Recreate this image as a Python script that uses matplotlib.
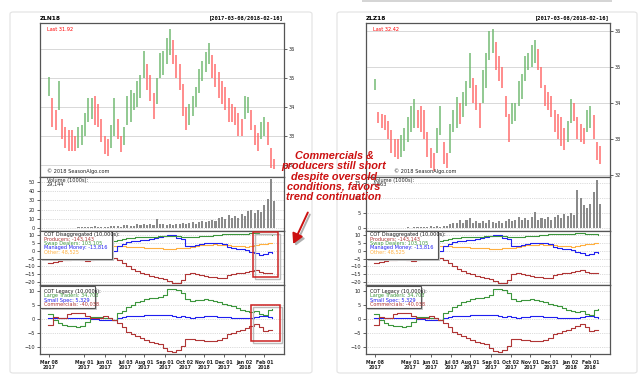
import matplotlib
matplotlib.use('Agg')
import matplotlib.pyplot as plt
from matplotlib.patches import Rectangle, FancyBboxPatch, FancyArrowPatch
import pandas as pd

W, H = 640, 377

# ---- data ----
bar_dates = pd.date_range('2017-03-08', periods=70, freq='5D')
cot_dates = pd.date_range('2017-03-07', periods=50, freq='7D')

zln_lo = [34.4, 33.3, 33.2, 33.9, 32.9, 32.6, 32.5, 32.5, 32.5, 32.6,
          32.7, 33.0, 33.5, 33.6, 33.4, 33.3, 32.8, 32.4, 32.3, 32.6,
          33.0, 32.9, 32.45, 32.7, 33.4, 33.5, 33.9, 34.0, 34.3, 35.0,
          34.6, 34.2, 33.6, 34.1, 35.0, 35.1, 35.5, 35.8, 35.5, 35.0,
          34.6, 33.7, 33.2, 33.4, 33.7, 34.0, 34.5, 34.9, 35.2, 35.5,
          35.0, 34.7, 34.3, 34.1, 33.9, 33.5, 33.5, 33.4, 33.0, 33.0,
          33.6, 33.8, 33.2, 32.7, 32.5, 32.9, 33.0, 32.7, 31.9, 31.85]
zln_hi = [35.05, 34.3, 33.9, 34.9, 33.6, 33.3, 33.2, 33.2, 33.0, 33.3,
          33.4, 33.8, 34.3, 34.3, 34.4, 34.1, 33.6, 33.0, 32.9, 33.4,
          34.3, 33.6, 33.0, 33.3, 34.4, 34.6, 34.5, 34.9, 35.1, 35.95,
          35.5, 35.1, 34.5, 35.0, 35.85, 35.95, 36.4, 36.68, 36.3, 35.8,
          35.5, 34.8, 34.0, 34.1, 34.4, 34.7, 35.3, 35.6, 35.9, 36.2,
          35.8, 35.5, 35.2, 34.9, 34.7, 34.3, 34.1, 34.0, 33.8, 33.6,
          34.4, 34.35, 33.9, 33.4, 33.1, 33.5, 33.66, 33.5, 32.6, 32.2]

zlz_lo = [34.35, 33.45, 33.3, 33.25, 33.0, 32.6, 32.5, 32.45, 32.5, 32.65,
          32.9, 33.2, 33.3, 33.3, 33.2, 33.0, 32.5, 32.2, 32.1, 32.6,
          33.1, 32.3, 32.2, 32.6, 33.2, 33.3, 33.4, 33.6, 33.9, 34.4,
          34.0, 33.8, 33.3, 34.0, 34.4, 35.2, 35.4, 34.9, 34.6, 34.4,
          33.6, 32.9, 33.4, 33.5, 33.9, 34.1, 34.6, 34.9, 35.0, 35.1,
          34.9, 34.4, 33.9, 33.8, 33.6, 33.2, 33.0, 32.8, 32.7, 32.9,
          33.45, 33.5, 33.0, 32.9, 32.85, 33.2, 33.3, 33.0, 32.4, 32.3]
zlz_hi = [34.65, 33.75, 33.7, 33.65, 33.5, 33.25, 33.0, 33.0, 33.1, 33.3,
          33.6, 33.9, 34.1, 33.8, 33.9, 33.8, 33.2, 32.75, 32.6, 33.3,
          33.9, 32.9, 32.6, 33.4, 33.8, 34.15, 34.0, 34.3, 34.6, 35.4,
          34.7, 34.5, 34.0, 34.9, 35.4, 36.0, 36.05, 35.7, 35.3, 35.0,
          34.2, 33.7, 34.0, 34.0, 34.6, 34.8, 35.3, 35.4, 35.6, 35.75,
          35.5, 35.0, 34.5, 34.3, 34.2, 33.8, 33.7, 33.6, 33.3, 33.5,
          34.1, 34.0, 33.6, 33.4, 33.3, 33.8, 33.9, 33.65, 32.9, 32.8]

zln_vol = [0.2, 0.3, 0.2, 0.3, 0.4, 0.3, 0.5, 0.4, 0.5, 0.6,
           0.8, 0.6, 1.0, 0.9, 2.5, 1.2, 1.0, 1.5, 1.3, 1.8,
           1.6, 2.0, 1.5, 2.8, 3.2, 2.5, 2.2, 4.0, 3.5, 4.5,
           3.0, 4.8, 3.5, 9.5, 4.0, 3.8, 3.2, 4.5, 3.6, 4.2,
           3.8, 5.0, 4.2, 5.5, 6.0, 4.8, 6.5, 7.5, 6.0, 8.0,
           9.0, 7.5, 10.5, 12.0, 9.5, 14.0, 11.0, 13.0, 10.5, 15.0,
           13.0, 18.0, 20.0, 16.5, 19.0, 17.0, 25.0, 31.0, 53.0, 29.0]
zlz_vol = [0.05, 0.05, 0.05, 0.05, 0.05, 0.1, 0.05, 0.1, 0.1, 0.1,
           0.2, 0.15, 0.2, 0.3, 0.25, 0.4, 0.3, 0.5, 0.4, 0.6,
           0.3, 0.8, 0.5, 1.2, 1.8, 1.5, 2.5, 1.8, 2.8, 3.4,
           1.5, 2.2, 1.6, 2.4, 1.8, 2.6, 2.0, 1.8, 2.2, 1.7,
           2.4, 3.0, 2.2, 2.8, 3.5, 2.5, 3.2, 2.7, 3.6, 5.3,
           2.8, 3.4, 3.0, 3.8, 2.6, 3.6, 4.2, 3.4, 4.6, 4.0,
           5.0, 4.4, 12.5, 10.0, 7.5, 6.5, 7.8, 12.0, 16.0, 8.0]

# COT disaggregated (10,000s)
producers = [-8, -7.5, -6.5, -6, -6, -5.5, -5.5, -6, -6.5, -6,
             -5, -4.5, -4.5, -4.5, -4.8, -6, -8, -10, -11.5, -13,
             -14, -15, -16, -16.5, -17.5, -18, -19.5, -20.5, -20.8, -19,
             -15, -14.5, -15, -15.5, -16, -16.5, -17, -17.5, -17.2, -15.5,
             -15, -14.5, -14, -13.5, -13, -12.5, -13.5, -14, -14.5, -14.3]
swap_dealers = [5.5, 5.8, 6.0, 6.0, 6.2, 6.0, 6.3, 6.5, 6.4, 6.5,
                6.6, 6.5, 6.5, 6.4, 6.5, 7.0, 7.8, 8.2, 8.3, 8.5,
                8.6, 8.8, 8.9, 9.0, 9.2, 9.3, 9.5, 9.6, 9.4, 9.0,
                8.6, 8.8, 9.0, 9.3, 9.5, 9.7, 9.9, 10.2, 10.4, 10.6,
                10.8, 10.7, 10.9, 11.0, 11.2, 11.3, 11.0, 10.8, 10.5, 10.3]
managed_money = [2.0, 1.5, 1.0, 0.5, 0, -0.5, -1, -1.5, -1, -0.5,
                 0, -0.5, -1, -0.5, 0, 3.0, 4.0, 5.5, 6.0, 6.5,
                 6.8, 7.0, 7.2, 8.0, 8.5, 9.5, 10.0, 9.8, 8.0, 7.5,
                 3.0, 2.8, 3.5, 4.5, 5.0, 5.2, 5.0, 4.8, 4.5, 2.5,
                 1.8, 1.2, 0.8, 0.5, -0.5, -1.5, -2.5, -2.2, -1.0, -1.4]
other = [3.0, 3.2, 3.5, 3.8, 4.0, 4.2, 4.0, 3.8, 4.0, 4.2,
         4.0, 3.8, 3.5, 3.2, 3.0, 3.0, 2.8, 2.6, 2.5, 2.3,
         2.2, 2.0, 1.8, 1.6, 1.5, 1.3, 1.2, 1.4, 1.5, 1.6,
         2.0, 2.5, 3.0, 3.4, 3.6, 3.8, 4.0, 3.8, 3.5, 3.4,
         3.2, 3.0, 2.8, 2.5, 3.0, 3.8, 4.3, 4.5, 4.8, 4.9]

# COT legacy (10,000s)
large_traders = [1.8, -0.5, -1.5, -2.0, -2.5, -2.5, -2.8, -2.5, -1.0, 0.8,
                 0.8, 0.6, 0.5, 0.3, -0.2, 2.0, 3.0, 4.4, 5.0, 6.0,
                 6.3, 7.2, 7.4, 7.5, 7.8, 8.6, 10.5, 10.8, 10.2, 9.3,
                 7.2, 6.5, 6.6, 6.8, 7.0, 6.8, 6.5, 6.2, 5.5, 5.0,
                 4.5, 3.9, 3.2, 2.8, 2.5, 2.8, 1.8, 1.5, 3.2, 3.5]
small_spec = [0.5, 0.3, 0.4, 0.2, 0.3, 0.5, 0.4, 0.3, 0.2, 0.1,
              0.0, -0.2, -0.3, -0.4, -0.2, 0.5, 0.8, 0.9, 1.0, 1.1,
              1.2, 1.3, 1.4, 1.3, 1.4, 1.5, 1.3, 1.0, 0.8, 1.0,
              0.6, 0.5, 0.7, 0.8, 0.9, 1.0, 0.9, 0.8, 0.7, 0.6,
              0.5, 0.4, 0.4, 0.5, 0.5, 0.7, 0.9, 1.0, 0.8, 0.5]
commercials = [-2.0, 0.8, 0.5, 0.5, 1.8, 2.1, 2.1, 2.0, 1.0, 0.5,
               0.3, 0.2, 1.0, 0.3, -0.5, -1.5, -3.0, -4.5, -5.5, -6.2,
               -6.8, -7.5, -8.3, -8.5, -9.0, -10.2, -11.5, -11.8, -11.2, -9.5,
               -7.2, -7.3, -7.5, -7.6, -7.8, -8.0, -7.8, -7.5, -6.8, -5.5,
               -5.0, -4.2, -3.8, -3.3, -2.5, -1.8, -2.8, -4.2, -3.9, -4.0]

tick_dates = pd.to_datetime(['2017-03-08', '2017-05-01', '2017-06-01', '2017-07-03',
                             '2017-08-01', '2017-09-01', '2017-10-02', '2017-11-01',
                             '2017-12-01', '2018-01-02', '2018-02-01'])
tick_labels = ['Mar 08\n2017', 'May 01\n2017', 'Jun 01\n2017', 'Jul 03\n2017',
               'Aug 01\n2017', 'Sep 01\n2017', 'Oct 02\n2017', 'Nov 01\n2017',
               'Dec 01\n2017', 'Jan 02\n2018', 'Feb 01\n2018']

RED = '#b03535'
GREEN = '#3c963c'
BLUE = '#2020f0'
ORANGE = '#ffb040'
FS = 3.6

fig = plt.figure(figsize=(W / 100, H / 100), dpi=100)
fig.patch.set_facecolor('white')


def rect(x0, y0, x1, y1):
    return [x0 / W, 1 - y1 / H, (x1 - x0) / W, (y1 - y0) / H]


def ftext(x, y, s, **kw):
    kw.setdefault('fontsize', FS)
    kw.setdefault('va', 'center')
    fig.text(x / W, 1 - y / H, s, **kw)


def frame(x0, y0, x1, y1, ec, lw, shadow=False, fc='none', z=4):
    if shadow:
        fig.add_artist(Rectangle(((x0 + 2) / W, 1 - (y1 + 2) / H), (x1 - x0) / W, (y1 - y0) / H,
                                 transform=fig.transFigure, fc='#c8c8c8', ec='none', zorder=z - 0.1))
    fig.add_artist(Rectangle((x0 / W, 1 - y1 / H), (x1 - x0) / W, (y1 - y0) / H,
                             transform=fig.transFigure, fc=fc, ec=ec, lw=lw, zorder=z))


def style(ax, ylim, yticks, right=False):
    ax.set_xlim(pd.Timestamp('2017-02-22'), pd.Timestamp('2018-03-03'))
    ax.set_ylim(*ylim)
    ax.set_yticks(yticks)
    for s in ax.spines.values():
        s.set_color('#555555')
        s.set_linewidth(0.9)
    ax.tick_params(labelsize=FS, length=2, width=0.5, pad=1.5, colors='#222222')
    if right:
        ax.yaxis.tick_right()
    ax.set_xticks(tick_dates)
    ax.tick_params(axis='x', labelbottom=False, length=0)


def panel(x0, name, lo, hi, plim, last, vol, vlim, vticks, vtext, cpx):
    x1 = x0 + 244
    # price candles
    ax = fig.add_axes(rect(x0, 23, x1, 177))
    style(ax, plim, [32, 33, 34, 35, 36], right=True)
    ax.grid(axis='y', color='#d8d8d8', lw=0.7)
    ax.set_axisbelow(True)
    cols = ['#6fb86f']
    for i in range(1, len(lo)):
        cols.append('#6fb86f' if lo[i] + hi[i] > lo[i - 1] + hi[i - 1] else '#ff6868')
    ax.vlines(bar_dates, lo, hi, colors=cols, lw=1.25, alpha=0.85)
    ax.text(0.03, 0.96, 'Last ' + last, transform=ax.transAxes, color='red', fontsize=FS, va='center')
    ftext(cpx, 171.5, '\u00a9 2018 SeasonAlgo.com', color='#222222')
    ftext(x0, 18, name, fontweight='bold', fontsize=4.2)
    ftext(x1, 18, '[2017-03-08/2018-02-16]', ha='right', fontweight='bold',
          family='DejaVu Sans Mono', fontsize=3.9)

    # volume
    av = fig.add_axes(rect(x0, 177, x1, 231))
    style(av, vlim, vticks)
    av.grid(axis='y', color='#bbbbbb', lw=0.5, ls=':')
    av.set_axisbelow(True)
    av.bar(bar_dates, vol, width=3.2, color='#8a8a8a', ec='none')
    ftext(x0 + 7, 180.5, 'Volume (1000s):', color='#222222')
    ftext(x0 + 7, 184.5, vtext, color='#222222')

    # COT disaggregated
    ad = fig.add_axes(rect(x0, 231, x1, 285))
    style(ad, (-21.9, 12.6), [-20, -15, -10, -5, 0, 5, 10])
    ad.grid(axis='y', color='#bbbbbb', lw=0.5, ls=':')
    ad.step(cot_dates, other, where='post', color=ORANGE, lw=0.8)
    ad.step(cot_dates, managed_money, where='post', color=BLUE, lw=0.8)
    ad.step(cot_dates, swap_dealers, where='post', color=GREEN, lw=0.8)
    ad.step(cot_dates, producers, where='post', color=RED, lw=0.8)
    frame(x0, 231, x0 + 72, 258.5, '#555555', 0.8, shadow=True, fc='white', z=3)
    for yy, s, c in [(235, 'COT Disaggregated (10,000s):', '#111111'),
                     (239.3, 'Producers: -143,143', RED),
                     (243.6, 'Swap Dealers: 103,105', GREEN),
                     (247.9, 'Managed Money: -13,816', BLUE),
                     (252.2, 'Other: 48,525', ORANGE)]:
        ftext(x0 + 4, yy, s, color=c, zorder=5)

    # COT legacy
    al = fig.add_axes(rect(x0, 285, x1, 354))
    style(al, (-12.5, 12.1), [-10, -5, 0, 5, 10])
    al.grid(axis='y', color='#bbbbbb', lw=0.5, ls=':')
    al.step(cot_dates, small_spec, where='post', color=BLUE, lw=0.8)
    al.step(cot_dates, large_traders, where='post', color=GREEN, lw=0.8)
    al.step(cot_dates, commercials, where='post', color=RED, lw=0.8)
    al.tick_params(axis='x', labelbottom=True, length=2, labelsize=3.3, pad=2)
    al.set_xticklabels(tick_labels, fontweight='bold')
    frame(x0, 286, x0 + 54.5, 308.3, '#555555', 0.8, shadow=True, fc='white', z=3)
    for yy, s, c in [(291.3, 'COT Legacy (10,000s):', '#111111'),
                     (295.7, 'Large Traders: 34,703', GREEN),
                     (300.1, 'Small Spec: 5,329', BLUE),
                     (304.5, 'Commercials: -40,038', RED)]:
        ftext(x0 + 4, yy, s, color=c, zorder=5)


# cards behind the two charts
for cx0, cx1 in [(10, 312), (337, 637)]:
    fig.add_artist(FancyBboxPatch((cx0 / W, 1 - 373 / H), (cx1 - cx0) / W, 361 / H,
                                  boxstyle='round,pad=0,rounding_size=0.005',
                                  transform=fig.transFigure, fc='white', ec='#e2e2e2',
                                  lw=0.8, zorder=-1))
fig.add_artist(Rectangle((362 / W, 1 - 2 / H), 250 / W, 2 / H, transform=fig.transFigure,
                         fc='#d5d5d5', ec='none', zorder=-1))

panel(40, 'ZLN18', zln_lo, zln_hi, (31.59, 36.9), '31.92', zln_vol,
      (-3.3, 55.4), [0, 10, 20, 30, 40, 50], '29,144', 47)
panel(366, 'ZLZ18', zlz_lo, zlz_hi, (31.94, 36.22), '32.42', zlz_vol,
      (-1.0, 16.9), [0, 5, 10, 15], '4,863', 394)

# highlight boxes with soft shadow
for bx in [(253.3, 231.5, 277.7, 277.3), (250.7, 305, 280, 340.7)]:
    fig.add_artist(Rectangle(((bx[0] + 2) / W, 1 - (bx[3] + 2) / H), (bx[2] - bx[0]) / W,
                             (bx[3] - bx[1]) / H, transform=fig.transFigure, fill=False,
                             ec='#bbbbbb', lw=1.0, zorder=3.9))
    frame(*bx, '#cc2222', 1.1)

# annotation
ftext(334, 176.5, 'Commercials &\nproducers still short\ndespite oversold\nconditions, favors\ntrend continuation',
      ha='center', multialignment='center', fontsize=7.8, fontweight='bold', fontstyle='italic',
      color='#cc1111', family='Liberation Sans', linespacing=1.05, zorder=6)
for off, col in [(2, '#b0b0b0'), (0, '#cc1111')]:
    fig.add_artist(FancyArrowPatch(((309 + off) / W, 1 - (210 + off) / H),
                                   ((292 + off) / W, 1 - (246.5 + off) / H),
                                   transform=fig.transFigure, arrowstyle='-|>,head_length=4,head_width=2.2',
                                   color=col, lw=1.4, zorder=6, mutation_scale=1.5))

fig.savefig('out.png', dpi=100)
